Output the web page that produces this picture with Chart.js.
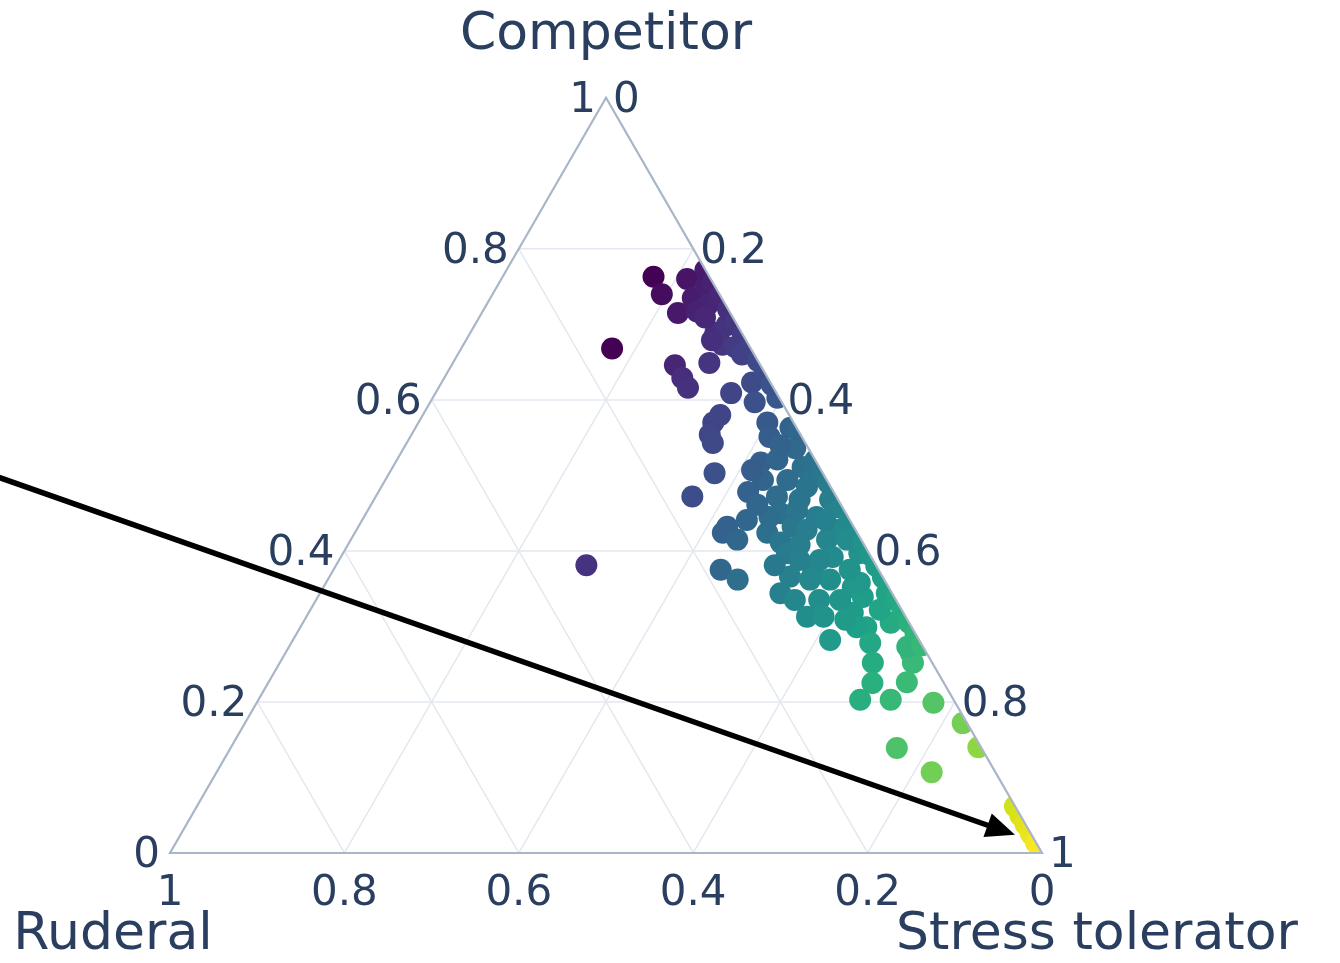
<!DOCTYPE html>
<html>
<head>
<meta charset="utf-8">
<title>CSR strategies</title>
<script src="https://cdn.jsdelivr.net/npm/chart.js@4.4.1/dist/chart.umd.min.js"></script>
<style>
  html, body { margin: 0; padding: 0; background: #ffffff; }
  #wrap { width: 1340px; height: 963px; }
</style>
</head>
<body>
<div id="wrap"><canvas id="csr" width="1340" height="963"></canvas></div>
<script>
// CSR strategy shares per species: Competitor, Stress tolerator, Ruderal
const competitor = [
  .763,.740,.760,.715,.735,.750,.726,.717,.689,.699,
  .673,.670,.660,.668,.646,.629,.616,.649,.609,.623,
  .597,.570,.554,.580,.570,.551,.603,.563,.503,.472,
  .517,.521,.494,.494,.511,.485,.472,.432,.441,.450,
  .432,.445,.468,.428,.424,.424,.415,.445,.411,.454,
  .428,.415,.458,.375,.362,.344,.366,.371,.362,.313,
  .335,.352,.339,.397,.415,.392,.313,.299,.318,.362,
  .282,.358,.299,.344,.305,.278,.252,.225,.203,.203,
  .226,.265,.252,.273,.199,.172,.140,.139,.107,
  .381,.543,.498,.397,.468,.388,.408,
  .507,.478,.461,.536,.540,.441,.388,.335,.335,.309,.322,.381,.375,
  .709,.679,
  .772,.755,.738,.720,.703,.686,.670,.652,.636,.620,
  .558,
  .520,.505,.490,.475,.458,.442,.426,.410,.395,.380,.365,.350,.335,.320,.305,.290,.275,
  .062,.050,.038,.026,.014,.004
];
const stressTolerator = [
  .173,.194,.213,.225,.232,.239,.254,.246,.281,.289,
  .297,.313,.326,.173,.256,.273,.286,.294,.339,.356,
  .372,.338,.342,.341,.400,.412,.395,.430,.373,.363,
  .419,.436,.433,.461,.470,.488,.460,.423,.441,.475,
  .498,.519,.523,.554,.473,.422,.443,.465,.495,.492,
  .516,.546,.536,.444,.470,.528,.528,.552,.576,.574,
  .577,.607,.625,.592,.569,.564,.593,.649,.624,.553,
  .616,.612,.638,.650,.674,.664,.680,.693,.690,.725,
  .732,.717,.726,.709,.776,.823,.857,.764,.820,
  .287,.351,.488,.509,.488,.551,.518,
  .414,.424,.443,.449,.430,.531,.528,.549,.601,.620,.653,.503,.592,
  .259,.282,
  .228,.245,.262,.280,.297,.314,.330,.348,.364,.380,
  .442,
  .480,.495,.510,.525,.542,.558,.574,.590,.605,.620,.635,.650,.665,.680,.695,.710,.725,
  .938,.950,.962,.974,.986,.996
];
const ruderal = [
  .064,.066,.027,.060,.033,.011,.020,.037,.030,.012,
  .030,.017,.014,.159,.098,.098,.098,.057,.052,.021,
  .031,.092,.104,.079,.030,.037,.002,.007,.124,.165,
  .064,.043,.073,.045,.019,.027,.068,.145,.118,.075,
  .070,.036,.009,.018,.103,.154,.142,.090,.094,.054,
  .056,.039,.006,.181,.168,.128,.106,.077,.062,.113,
  .088,.041,.036,.011,.016,.044,.094,.052,.058,.085,
  .102,.030,.063,.006,.021,.058,.068,.082,.107,.072,
  .042,.018,.022,.018,.025,.005,.003,.097,.073,
  .332,.106,.014,.094,.044,.061,.074,
  .079,.098,.096,.015,.030,.028,.084,.116,.064,.071,.025,.116,.033,
  .032,.039,
  0,0,0,0,0,0,0,0,0,0,
  0,
  0,0,0,0,0,0,0,0,0,0,0,0,0,0,0,0,0,
  0,0,0,0,0,0
];

// axis ticks (same for all three axes) and the grid lines between them
const tickValues = [0, 0.2, 0.4, 0.6, 0.8, 1];
const tickLabels = ['0', '0.2', '0.4', '0.6', '0.8', '1'];
const gridValues = [0.2, 0.4, 0.6, 0.8];
const axisTitles = { competitor: 'Competitor', ruderal: 'Ruderal', stress: 'Stress tolerator' };

// colour range for the stress-tolerator share
const colorMin = 0.17;
const colorMax = 1.0;

// annotation arrow, in [competitor, stress, ruderal]; the tail sits off the left of the triangle
const arrowTail = [0.5027, -0.461, 0.958];
const arrowHead = [0.024, 0.957, 0.019];

// ---------------------------------------------------------------------------
const TEXT = '#2a3f5f';
const FONT = '"DejaVu Sans", Verdana, sans-serif';
const SQRT3_2 = Math.sqrt(3) / 2;

function toCartesian(c, s, r) {
  const sum = c + s + r;
  const cc = c / sum, ss = s / sum;
  return { x: ss + cc / 2, y: cc * SQRT3_2 };
}

const VIRIDIS = ['#440154','#48186a','#472d7b','#424086','#3b528b','#33638d','#2c728e','#26828e',
  '#21918c','#1fa088','#28ae80','#3fbc73','#5ec962','#84d44b','#addc30','#d8e219','#fde725'];
function hexRgb(h) { return [1, 3, 5].map(i => parseInt(h.substr(i, 2), 16)); }
function viridis(t) {
  t = Math.max(0, Math.min(1, t));
  const n = VIRIDIS.length - 1;
  const i = Math.min(n - 1, Math.floor(t * n));
  const f = t * n - i;
  const a = hexRgb(VIRIDIS[i]), b = hexRgb(VIRIDIS[i + 1]);
  const c = a.map((v, k) => Math.round(v + (b[k] - v) * f));
  return `rgb(${c[0]},${c[1]},${c[2]})`;
}

const points = competitor.map((c, i) => toCartesian(c, stressTolerator[i], ruderal[i]));
const colors = stressTolerator.map(s => viridis((s - colorMin) / (colorMax - colorMin)));

const ternaryPlugin = {
  id: 'ternary',
  beforeDatasetsDraw(chart) {
    const { ctx } = chart;
    const P = projector(chart);
    ctx.save();
    ctx.strokeStyle = '#e3e8f0';
    ctx.lineWidth = 1.5;
    const seg = (p, q) => { ctx.beginPath(); ctx.moveTo(p[0], p[1]); ctx.lineTo(q[0], q[1]); ctx.stroke(); };
    gridValues.forEach(v => {
      seg(P(v, 1 - v, 0), P(v, 0, 1 - v));   // constant competitor
      seg(P(1 - v, v, 0), P(0, v, 1 - v));   // constant stress tolerator
      seg(P(1 - v, 0, v), P(0, 1 - v, v));   // constant ruderal
    });
    ctx.restore();
    // markers are clipped to the triangle
    ctx.save();
    trianglePath(ctx, P);
    ctx.clip();
  },
  afterDatasetsDraw(chart) {
    const { ctx } = chart;
    ctx.restore();
    const P = projector(chart);

    // triangle outline
    ctx.save();
    ctx.strokeStyle = '#a9b6c8';
    ctx.lineWidth = 2.2;
    ctx.lineJoin = 'miter';
    trianglePath(ctx, P);
    ctx.stroke();

    // tick labels
    ctx.fillStyle = TEXT;
    ctx.font = `42px ${FONT}`;
    ctx.textBaseline = 'alphabetic';
    tickValues.forEach((v, i) => {
      const [x, y] = P(v, 0, 1 - v);
      ctx.textAlign = 'right';
      ctx.fillText(tickLabels[i], x - 10, y + 14);
    });
    tickValues.forEach((v, i) => {
      const [x, y] = P(1 - v, v, 0);
      ctx.textAlign = 'left';
      ctx.fillText(tickLabels[i], x + 7, y + 14);
    });
    tickValues.forEach((v, i) => {
      const [x, y] = P(0, 1 - v, v);
      ctx.textAlign = 'center';
      ctx.fillText(tickLabels[i], x, y + 52);
    });

    // axis titles
    ctx.font = `52px ${FONT}`;
    ctx.textAlign = 'center';
    const top = P(1, 0, 0), left = P(0, 0, 1), right = P(0, 1, 0);
    ctx.fillText(axisTitles.competitor, top[0], top[1] - 49);
    ctx.fillText(axisTitles.ruderal, left[0] - 57, left[1] + 96);
    ctx.fillText(axisTitles.stress, right[0] + 55, right[1] + 96);

    // arrow
    const [tx, ty] = P(...arrowTail);
    const [hx, hy] = P(...arrowHead);
    const dx = hx - tx, dy = hy - ty, L = Math.hypot(dx, dy);
    const ux = dx / L, uy = dy / L;
    const headLen = 29, headHalf = 12.5;
    ctx.strokeStyle = '#000';
    ctx.fillStyle = '#000';
    ctx.lineWidth = 5.5;
    ctx.beginPath();
    ctx.moveTo(tx, ty);
    ctx.lineTo(hx - ux * (headLen - 3), hy - uy * (headLen - 3));
    ctx.stroke();
    ctx.beginPath();
    ctx.moveTo(hx, hy);
    ctx.lineTo(hx - ux * headLen - uy * headHalf, hy - uy * headLen + ux * headHalf);
    ctx.lineTo(hx - ux * headLen + uy * headHalf, hy - uy * headLen - ux * headHalf);
    ctx.closePath();
    ctx.fill();
    ctx.restore();
  }
};

function projector(chart) {
  const { x, y } = chart.scales;
  return (c, s, r) => {
    const q = toCartesian(c, s, r);
    return [x.getPixelForValue(q.x), y.getPixelForValue(q.y)];
  };
}
function trianglePath(ctx, P) {
  const a = P(1, 0, 0), b = P(0, 0, 1), c = P(0, 1, 0);
  ctx.beginPath();
  ctx.moveTo(a[0], a[1]);
  ctx.lineTo(b[0], b[1]);
  ctx.lineTo(c[0], c[1]);
  ctx.closePath();
}

new Chart(document.getElementById('csr'), {
  type: 'scatter',
  data: {
    datasets: [{
      data: points,
      backgroundColor: colors,
      borderWidth: 0,
      pointRadius: 11,
      pointHoverRadius: 11
    }]
  },
  options: {
    responsive: false,
    animation: false,
    events: [],
    layout: { padding: 0, autoPadding: false },
    plugins: { legend: { display: false }, title: { display: false }, tooltip: { enabled: false } },
    scales: {
      x: { type: 'linear', min: -0.19495, max: 1.34174, display: false },
      y: { type: 'linear', min: -0.12615, max: 0.97821, display: false }
    }
  },
  plugins: [ternaryPlugin]
});
</script>
</body>
</html>
